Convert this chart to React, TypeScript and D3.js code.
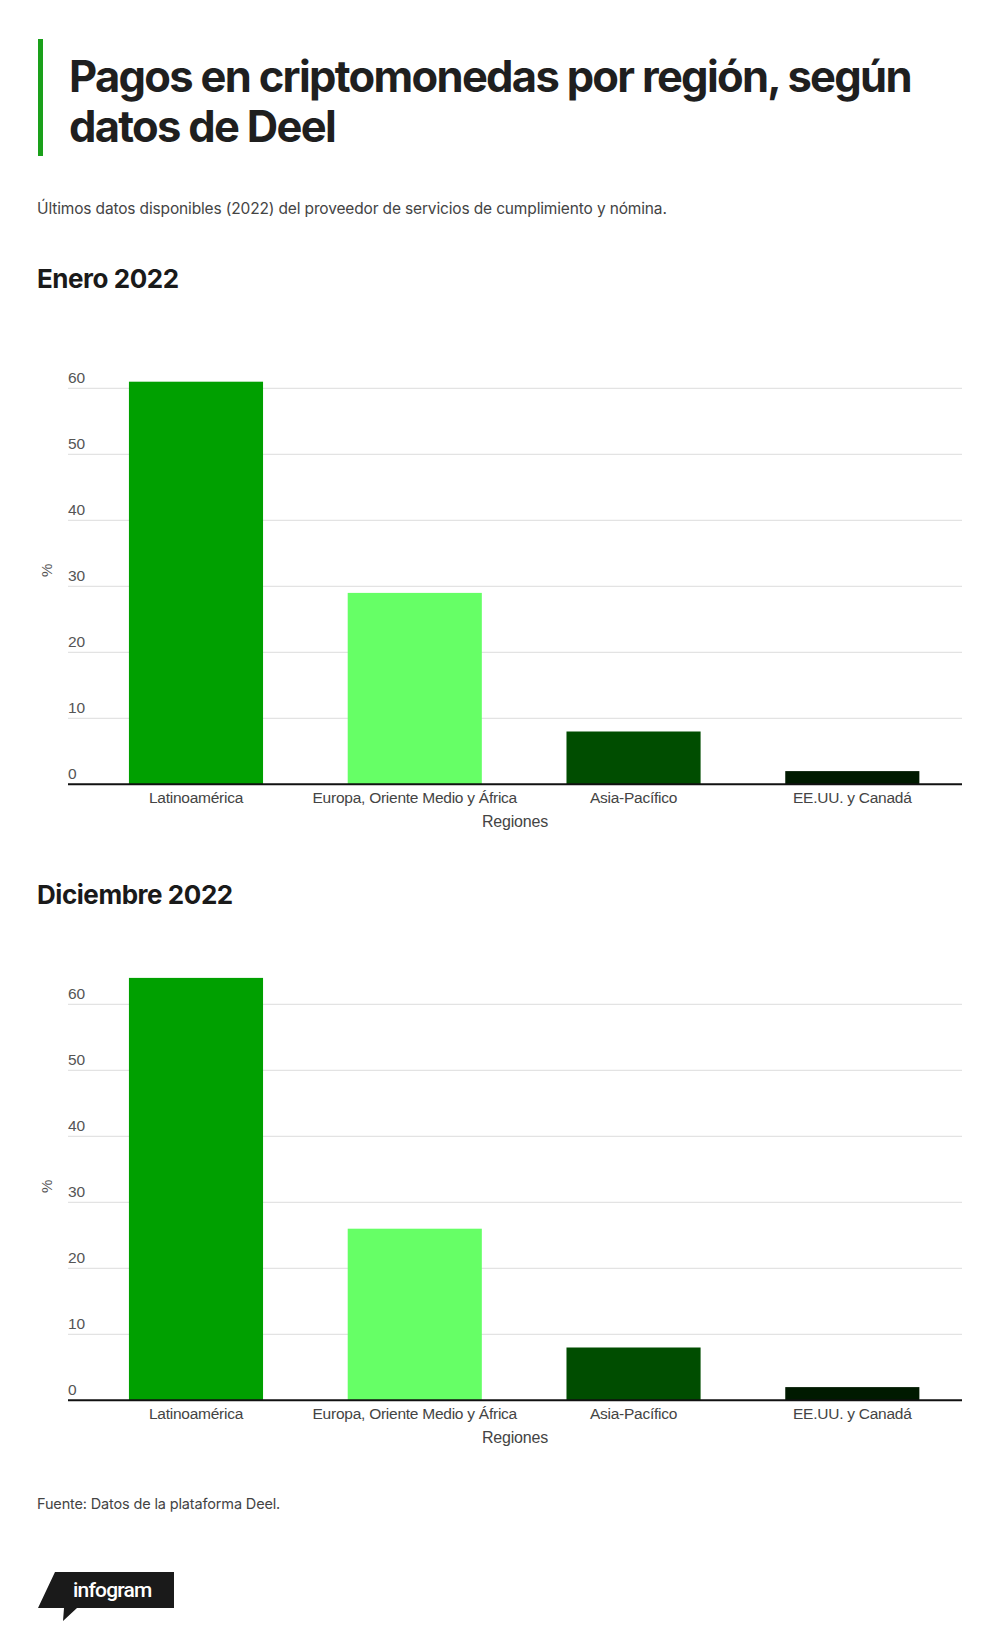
import * as d3 from 'd3';

const REGIONS = ['Latinoamérica', 'Europa, Oriente Medio y África', 'Asia-Pacífico', 'EE.UU. y Canadá'];
const ENERO = [61, 29, 8, 2];
const DICIEMBRE = [64, 26, 8, 2];
const Y_TICKS = [0, 10, 20, 30, 40, 50, 60];
const BAR_COLORS = ['#00a000', '#66ff66', '#004d00', '#001a00'];

const W = 1000;
const H = 1641;
const HEAD_FONT = 'Inter, "Noto Sans", sans-serif';
const AXIS_FONT = '"Liberation Sans", Arial, sans-serif';

const AXIS_LEFT = 68;
const AXIS_RIGHT = 962;

const x = d3.scaleBand<string>()
  .domain(REGIONS)
  .range([86.6, 961.7])
  .paddingInner(0.387)
  .paddingOuter(0.1935);

interface PanelProps {
  title: string;
  values: number[];
  top: number; // y of the heading baseline
}

function Panel({ title, values, top }: PanelProps) {
  const base = top + 496.3;
  const y = d3.scaleLinear().domain([0, 60]).range([base, base - 396]);

  return (
    <g>
      <text x={37} y={top} fontFamily={HEAD_FONT} fontWeight={700} fontSize={26} letterSpacing={-0.45} fill="#1a1a1a">
        {title}
      </text>

      {Y_TICKS.map(t => (
        <g key={t}>
          {t > 0 && (
            <line x1={AXIS_LEFT} x2={AXIS_RIGHT} y1={y(t)} y2={y(t)} stroke="#dcdcdc" strokeWidth={1} />
          )}
          <text x={AXIS_LEFT} y={y(t) - 5} fontFamily={AXIS_FONT} fontSize={15.5} fill="#555">
            {t}
          </text>
        </g>
      ))}

      <text
        transform={`translate(52,${base - 214}) rotate(-90)`}
        textAnchor="middle"
        fontFamily={AXIS_FONT}
        fontSize={15}
        fill="#555"
      >
        %
      </text>

      {REGIONS.map((r, i) => (
        <rect
          key={r}
          x={x(r)}
          y={y(values[i])}
          width={x.bandwidth()}
          height={base - y(values[i])}
          fill={BAR_COLORS[i]}
        />
      ))}

      <line x1={AXIS_LEFT} x2={AXIS_RIGHT} y1={base} y2={base} stroke="#111" strokeWidth={2} />

      {REGIONS.map(r => (
        <text
          key={r}
          x={(x(r) ?? 0) + x.bandwidth() / 2}
          y={base + 19}
          textAnchor="middle"
          fontFamily={AXIS_FONT}
          fontSize={15.5}
          letterSpacing={-0.25}
          fill="#444"
        >
          {r}
        </text>
      ))}

      <text
        x={(AXIS_LEFT + AXIS_RIGHT) / 2}
        y={base + 43}
        textAnchor="middle"
        fontFamily={AXIS_FONT}
        fontSize={16}
        letterSpacing={-0.2}
        fill="#444"
      >
        Regiones
      </text>
    </g>
  );
}

export default function App() {
  return (
    <svg
      width={W}
      height={H}
      viewBox={`0 0 ${W} ${H}`}
      style={{ position: 'absolute', top: 0, left: 0, background: '#fff' }}
    >
      <rect width={W} height={H} fill="#fff" />

      {/* title block */}
      <rect x={38} y={39} width={5} height={117} fill="#1aa01a" />
      <text fontFamily={HEAD_FONT} fontWeight={700} fontSize={43.5} letterSpacing={-1.7} fill="#1f1f1f">
        <tspan x={69} y={91.5}>Pagos en criptomonedas por región, según</tspan>
        <tspan x={69} y={141.5}>datos de Deel</tspan>
      </text>
      <text x={37} y={214} fontFamily={HEAD_FONT} fontSize={15.5} letterSpacing={-0.15} fill="#444">
        Últimos datos disponibles (2022) del proveedor de servicios de cumplimiento y nómina.
      </text>

      <Panel title="Enero 2022" values={ENERO} top={288} />
      <Panel title="Diciembre 2022" values={DICIEMBRE} top={904} />

      <text x={37} y={1509} fontFamily={HEAD_FONT} fontSize={14.5} letterSpacing={-0.15} fill="#444">
        Fuente: Datos de la plataforma Deel.
      </text>

      {/* infogram badge */}
      <path d="M55,1572 L174,1572 L174,1608 L77,1608 L63,1621 L64,1608 L38,1608 Z" fill="#1a1a1a" />
      <text
        x={73}
        y={1597}
        fontFamily={'"Roboto", "DejaVu Sans Condensed", sans-serif'}
        fontWeight={500}
        fontSize={21}
        letterSpacing={-0.8}
        fill="#fff"
      >
        infogram
      </text>
    </svg>
  );
}
